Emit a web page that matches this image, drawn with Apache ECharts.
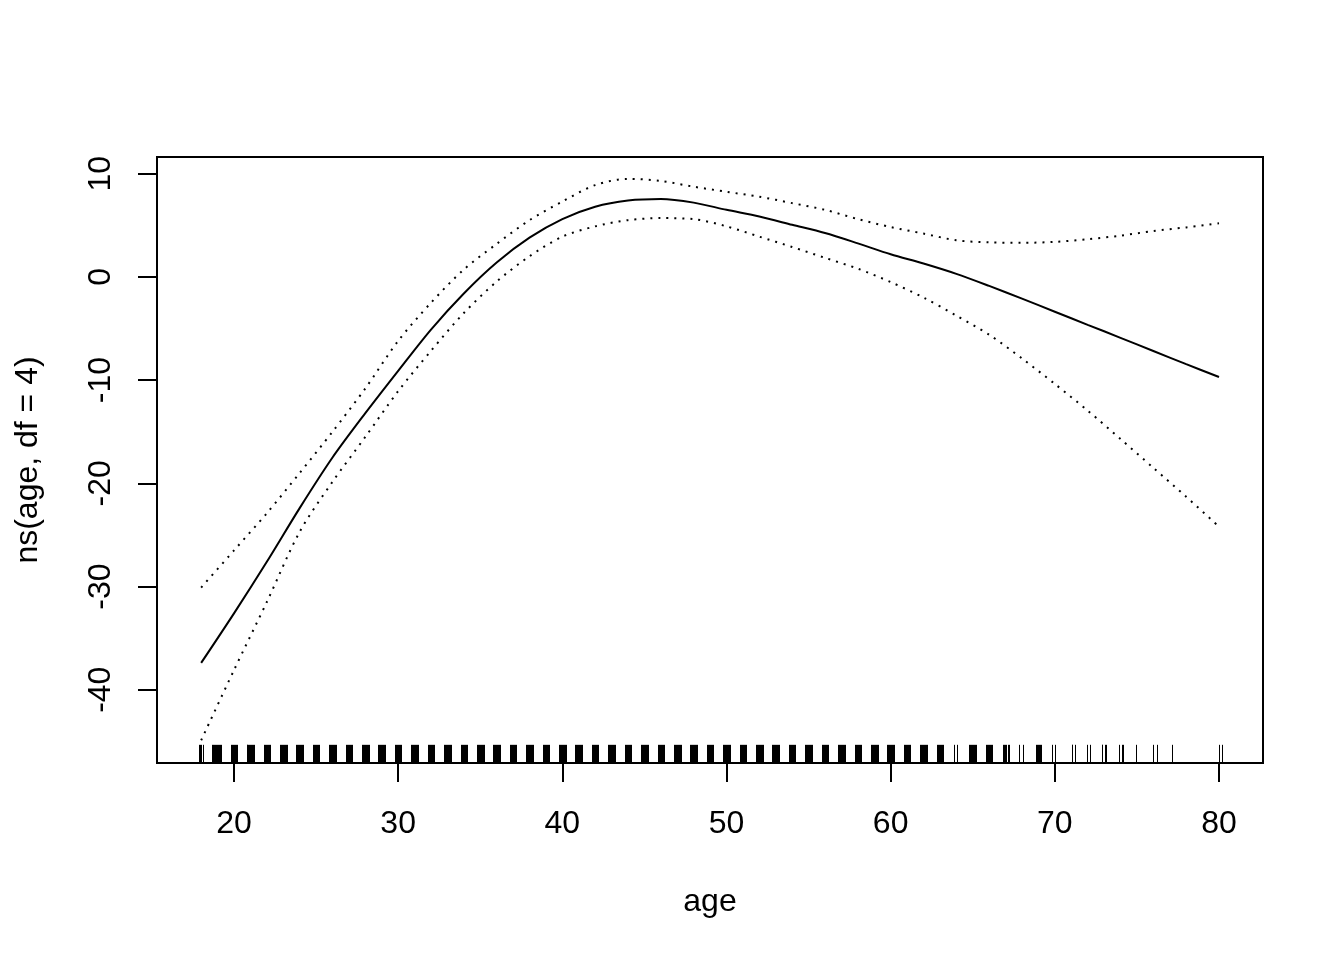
<!DOCTYPE html>
<html>
<head>
<meta charset="utf-8">
<script src="https://cdn.jsdelivr.net/npm/echarts@6/dist/echarts.min.js"></script>
<style>
html,body{margin:0;padding:0;background:#fff;}
#chart{width:1344px;height:960px;}
</style>
</head>
<body>
<div id="chart"></div>
<script>
// ---- data ----
const ages = [18,20,22,24,26,28,30,32,34,36,38,40,42,44,46,48,50,52,54,56,58,60,62,64,66,68,70,72,74,76,78,80];
const fitValues = [-37.4,-32.6,-27.6,-22.4,-17.5,-13.2,-9.1,-5.1,-1.6,1.4,3.8,5.6,6.8,7.4,7.55,7.2,6.5,5.85,5.05,4.25,3.25,2.2,1.3,0.3,-0.87,-2.1,-3.37,-4.64,-5.9,-7.18,-8.45,-9.7];
const upperValues = [-30.1,-26.5,-22.9,-19.0,-15.0,-10.8,-6.2,-2.5,0.72,3.2,5.5,7.3,8.9,9.5,9.3,8.74,8.25,7.77,7.15,6.5,5.6,4.83,4.2,3.55,3.35,3.3,3.4,3.65,4.0,4.45,4.8,5.2];
const lowerValues = [-44.9,-38.1,-31.5,-24.7,-19.85,-15.5,-11.07,-7.16,-3.5,-0.45,2.0,3.9,4.9,5.5,5.7,5.6,4.9,3.9,2.9,1.85,0.8,-0.5,-2.0,-3.75,-5.6,-7.9,-10.37,-12.95,-15.7,-18.5,-21.3,-24.2];

// rug: ages with many (jittered) observations drawn as solid clusters
const rugDenseAges = [19,20,21,22,23,24,25,26,27,28,29,30,31,32,33,34,35,36,37,38,39,40,41,42,43,44,45,46,47,48,49,50,51,52,53,54,55,56,57,58,59,60,61,62,63,65,66];
// rug: individual jittered observations
const rugSingle = [17.87,17.93,17.99,18.13,18.66,18.72,20.81,63.86,64.07,66.84,66.88,66.98,67.0,67.12,67.18,67.84,68.08,68.88,68.92,69.0,69.03,69.12,69.18,69.83,69.99,71.02,71.07,71.23,71.96,72.12,72.85,72.9,73.05,73.13,73.88,74.1,74.18,74.95,75.97,76.2,77.15,80.0,80.18];

const xTicks = [20,30,40,50,60,70,80];
const yTicks = [-40,-30,-20,-10,0,10];
const xLabel = 'age';
const yLabel = 'ns(age, df = 4)';

// ---- layout / style ----
const X_MIN = 15.31, X_MAX = 82.68;
const Y_MIN = -47.1, Y_MAX = 11.62;
const JITTER = 0.2;
const RUG_FRAC = 0.03;
const FONT = '"Liberation Sans", Arial, sans-serif';

const zip = (xs, ys) => xs.map((x, i) => [x, ys[i]]);

const chart = echarts.init(document.getElementById('chart'), null, {renderer: 'canvas'});
chart.setOption({
  backgroundColor: '#ffffff',
  animation: false,
  grid: {
    left: 157, top: 157, width: 1106, height: 606,
    show: true, borderColor: '#000', borderWidth: 2, backgroundColor: 'transparent'
  },
  xAxis: {
    type: 'value', min: X_MIN, max: X_MAX,
    name: xLabel, nameLocation: 'middle', nameGap: 139,
    nameTextStyle: {fontSize: 32, fontFamily: FONT, color: '#000', verticalAlign: 'middle'},
    axisLine: {show: false, onZero: false},
    axisTick: {show: true, inside: false, length: 19, customValues: xTicks, lineStyle: {color: '#000', width: 2}},
    axisLabel: {show: true, customValues: xTicks, margin: 61, fontSize: 32, fontFamily: FONT, color: '#000', verticalAlign: 'middle'},
    splitLine: {show: false}
  },
  yAxis: {
    type: 'value', min: Y_MIN, max: Y_MAX,
    name: yLabel, nameLocation: 'middle', nameGap: 129, nameRotate: 90,
    nameTextStyle: {fontSize: 32, fontFamily: FONT, color: '#000', verticalAlign: 'middle', align: 'center'},
    axisLine: {show: false, onZero: false},
    axisTick: {show: true, inside: false, length: 19, customValues: yTicks, lineStyle: {color: '#000', width: 2}},
    axisLabel: {show: true, customValues: yTicks, rotate: 90, margin: 56, fontSize: 32, fontFamily: FONT, color: '#000', verticalAlign: 'middle', align: 'center'},
    splitLine: {show: false}
  },
  series: [
    {
      type: 'line', data: zip(ages, fitValues), symbol: 'none', smooth: 0.3,
      lineStyle: {color: '#000', width: 2}
    },
    {
      type: 'line', data: zip(ages, upperValues), symbol: 'none', smooth: 0.3,
      lineStyle: {color: '#000', width: 2, type: [2, 6]}
    },
    {
      type: 'line', data: zip(ages, lowerValues), symbol: 'none', smooth: 0.3,
      lineStyle: {color: '#000', width: 2, type: [2, 6]}
    },
    {
      type: 'custom', data: rugDenseAges.map(a => [a, Y_MIN]), encode: {x: 0, y: 1},
      renderItem: function (params, api) {
        const cs = params.coordSys;
        const h = cs.height * RUG_FRAC;
        const a = api.value(0);
        const x0 = Math.round(api.coord([a - JITTER, Y_MIN])[0]);
        const x1 = Math.round(api.coord([a + JITTER, Y_MIN])[0]) + 1;
        return {type: 'rect', shape: {x: x0, y: cs.y + cs.height - h, width: x1 - x0, height: h}, style: {fill: '#000'}};
      }
    },
    {
      type: 'custom', data: rugSingle.map(a => [a, Y_MIN]), encode: {x: 0, y: 1},
      renderItem: function (params, api) {
        const cs = params.coordSys;
        const h = cs.height * RUG_FRAC;
        const px = Math.round(api.coord([api.value(0), Y_MIN])[0]) + 0.5;
        return {type: 'line', shape: {x1: px, y1: cs.y + cs.height - h, x2: px, y2: cs.y + cs.height}, style: {stroke: '#000', lineWidth: 1}};
      }
    }
  ]
});
</script>
</body>
</html>
